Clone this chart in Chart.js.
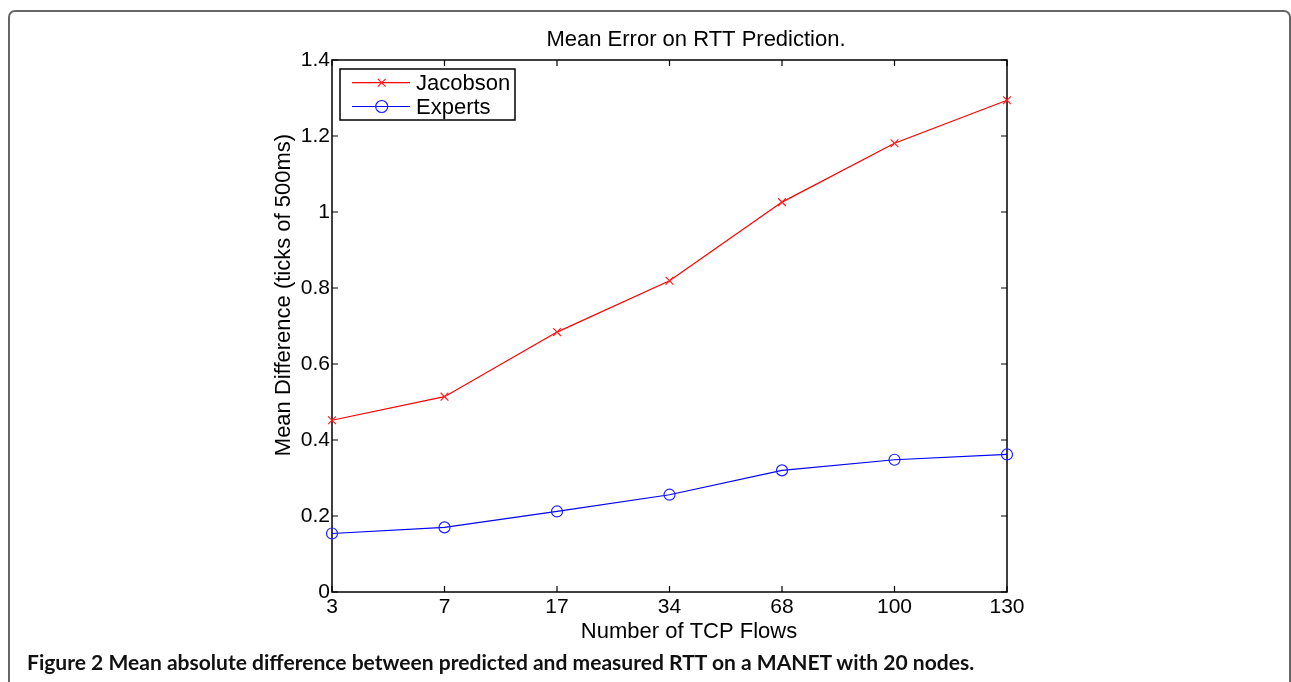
<!DOCTYPE html>
<html>
<head>
<meta charset="utf-8">
<title>Mean Error on RTT Prediction</title>
<script src="https://cdn.jsdelivr.net/npm/chart.js@4.4.0/dist/chart.umd.min.js"></script>
<style>
  html, body { margin: 0; padding: 0; background: #fff; overflow: hidden; }
  #frame {
    position: absolute; left: 8px; top: 10px; width: 1283px; height: 720px;
    box-sizing: border-box; border: 2px solid #666; border-radius: 7px;
  }
  #chart { position: absolute; left: 0; top: 0; }
  #caption {
    position: absolute; left: 27px; top: 651px; white-space: nowrap;
    font: 700 16px/22px Lato, "Open Sans", sans-serif; color: #111;
  }
</style>
</head>
<body>
<div id="frame"></div>
<canvas id="chart" width="1291" height="682"></canvas>
<div id="caption"><span id="capText">Figure 2 Mean absolute difference between predicted and measured RTT on a MANET with 20 nodes.</span></div>
<script>
// values
const flows    = ['3', '7', '17', '34', '68', '100', '130'];
const jacobson = [0.452, 0.514, 0.684, 0.819, 1.026, 1.181, 1.294];
const experts  = [0.154, 0.170, 0.212, 0.256, 0.320, 0.348, 0.362];
const yMin = 0, yMax = 1.4, yStep = 0.2;

const chartTitle = 'Mean Error on RTT Prediction.';
const xTitle = 'Number of TCP Flows';
const yTitle = 'Mean Difference (ticks of 500ms)';

const FONT = '"Liberation Sans", Arial, sans-serif';

// matlab-ish axes: box, inward ticks on all sides, inside legend, titles
const matlabAxes = {
  id: 'matlabAxes',
  beforeDatasetsDraw(chart) {
    const { ctx, chartArea: a, scales } = chart;
    ctx.save();
    ctx.strokeStyle = '#000';
    ctx.lineWidth = 1.5;
    ctx.strokeRect(a.left, a.top, a.right - a.left, a.bottom - a.top);
    ctx.lineWidth = 1.2;
    ctx.beginPath();
    scales.x.ticks.forEach((t, i) => {
      const px = scales.x.getPixelForTick(i);
      ctx.moveTo(px, a.bottom); ctx.lineTo(px, a.bottom - 6);
      ctx.moveTo(px, a.top);    ctx.lineTo(px, a.top + 6);
    });
    scales.y.ticks.forEach((t, i) => {
      const py = scales.y.getPixelForTick(i);
      ctx.moveTo(a.left, py);  ctx.lineTo(a.left + 6, py);
      ctx.moveTo(a.right, py); ctx.lineTo(a.right - 6, py);
    });
    ctx.stroke();
    ctx.restore();
  },
  afterDraw(chart) {
    const { ctx } = chart;
    ctx.save();
    ctx.fillStyle = '#000';
    ctx.font = '22px ' + FONT;
    ctx.textBaseline = 'alphabetic';
    ctx.textAlign = 'center';
    ctx.fillText(chartTitle, 696, 45.5);
    ctx.fillText(xTitle, 689, 637.5);

    ctx.save();
    ctx.translate(290, 295);
    ctx.rotate(-Math.PI / 2);
    ctx.fillText(yTitle, 0, 0);
    ctx.restore();

    // legend box
    const lx = 340, ly = 69, lw = 175, lh = 51;
    ctx.fillStyle = '#fff';
    ctx.fillRect(lx, ly, lw, lh);
    ctx.strokeStyle = '#000';
    ctx.lineWidth = 1.5;
    ctx.strokeRect(lx, ly, lw, lh);

    const rows = [82.7, 106.5];
    chart.data.datasets.forEach((ds, i) => {
      const y = rows[i];
      ctx.strokeStyle = ds.borderColor;
      ctx.lineWidth = ds.borderWidth;
      ctx.beginPath();
      ctx.moveTo(352, y); ctx.lineTo(410, y);
      ctx.stroke();
      ctx.fillStyle = 'rgba(0,0,0,0)';
      ctx.strokeStyle = ds.pointBorderColor;
      ctx.lineWidth = ds.pointBorderWidth;
      const r = i === 1 ? 6 : ds.pointRadius;
      Chart.helpers.drawPoint(ctx, { pointStyle: ds.pointStyle, radius: r, borderWidth: ds.pointBorderWidth, rotation: 0 }, 381.7, y);
      ctx.fillStyle = '#000';
      ctx.textAlign = 'left';
      ctx.textBaseline = 'middle';
      ctx.fillText(ds.label, 416, y + 1);
    });
    ctx.restore();
  }
};

new Chart(document.getElementById('chart'), {
  type: 'line',
  data: {
    labels: flows,
    datasets: [
      {
        label: 'Jacobson',
        data: jacobson,
        borderColor: '#ff0000',
        borderWidth: 1.2,
        pointStyle: 'crossRot',
        pointRadius: 5.5,
        pointBorderColor: '#ff2020',
        pointBorderWidth: 1.2,
        pointBackgroundColor: 'rgba(0,0,0,0)',
        tension: 0,
        fill: false
      },
      {
        label: 'Experts',
        data: experts,
        borderColor: '#0000ff',
        borderWidth: 1.2,
        pointStyle: 'circle',
        pointRadius: 5.5,
        pointBorderColor: '#2020ff',
        pointBorderWidth: 1.2,
        pointBackgroundColor: 'rgba(0,0,0,0)',
        tension: 0,
        fill: false
      }
    ]
  },
  options: {
    responsive: false,
    devicePixelRatio: 1,
    animation: false,
    layout: { padding: { top: 60, right: 284, left: 0, bottom: 0 } },
    plugins: {
      legend: { display: false },
      title: { display: false },
      tooltip: { enabled: false }
    },
    scales: {
      x: {
        type: 'category',
        offset: false,
        grid: { display: false, drawTicks: false },
        border: { display: false },
        ticks: { color: '#000', font: { family: FONT, size: 21 }, padding: 3, maxRotation: 0, autoSkip: false },
        afterFit(scale) { scale.height = 90; }
      },
      y: {
        min: yMin,
        max: yMax,
        grid: { display: false, drawTicks: false },
        border: { display: false },
        ticks: {
          stepSize: yStep,
          color: '#000',
          font: { family: FONT, size: 21 },
          padding: 2,
          callback: v => String(+(+v).toFixed(1))
        },
        afterFit(scale) { scale.width = 332; }
      }
    }
  },
  plugins: [matlabAxes]
});

// size the caption font so the line is as wide as in the figure
const cap = document.getElementById('capText');
const targetW = 948;
const w = cap.getBoundingClientRect().width;
cap.style.fontSize = (16 * targetW / w).toFixed(2) + 'px';
</script>
</body>
</html>
